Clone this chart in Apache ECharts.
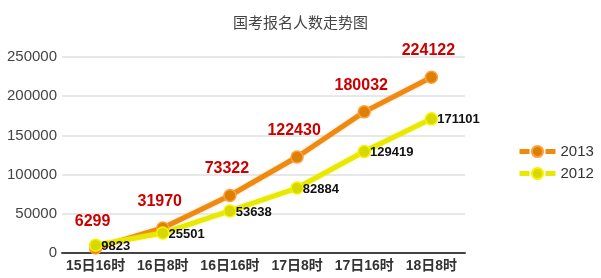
<!DOCTYPE html>
<html><head><meta charset="utf-8">
<script src="https://cdn.jsdelivr.net/npm/echarts@6/dist/echarts.min.js"></script>
<style>html,body{margin:0;padding:0;background:#fff}#c{width:601px;height:278px}</style>
</head><body><div id="c"></div>
<script>
const title = '国考报名人数走势图';
const categories = ['15日16时','16日8时','16日16时','17日8时','17日16时','18日8时'];
const seriesNames = ['2013','2012'];
const values2013 = [6299,31970,73322,122430,180032,224122];
const values2012 = [9823,25501,53638,82884,129419,171101];
const yTicks = {min:0, max:250000, interval:50000};

const chart = echarts.init(document.getElementById('c'), null, {renderer:'canvas'});
chart.setOption({
  animation:false,
  backgroundColor:'#fff',
  title:{text:title,left:'center',top:10,textStyle:{fontSize:15,fontWeight:'normal',color:'#444',fontFamily:'"Noto Sans CJK SC",sans-serif'}},
  grid:{left:62,right:136,top:57,bottom:25,containLabel:false},
  legend:{orient:'vertical',left:512,top:139,itemGap:7,itemWidth:36,itemHeight:14,
    lineStyle:{type:[10,16],width:5},
    textStyle:{fontSize:15,color:'#333',fontFamily:'Liberation Sans, Arial, sans-serif'},
    data:seriesNames},
  xAxis:{type:'category',data:categories,boundaryGap:true,
    axisLine:{lineStyle:{color:'#444',width:2}},axisTick:{show:false},
    axisLabel:{fontSize:14,fontWeight:'bold',color:'#333',margin:6,interval:0,fontFamily:'Liberation Sans, Arial, "Noto Sans CJK SC", sans-serif'}},
  yAxis:{type:'value',min:yTicks.min,max:yTicks.max,interval:yTicks.interval,
    axisLine:{show:false},axisTick:{show:false},
    splitLine:{lineStyle:{color:'#e0e0e0',width:1.5}},
    axisLabel:{fontSize:15,color:'#444',margin:5,formatter:v=>String(v),fontFamily:'Liberation Sans, Arial, sans-serif'}},
  series:[
    {name:'2013',type:'line',data:values2013,symbol:'circle',symbolSize:12,
      lineStyle:{color:'#ee8a10',width:5,shadowColor:'rgba(255,140,40,0.6)',shadowBlur:2},
      itemStyle:{color:'#dd8000',borderColor:'#ffa040',borderWidth:1.5},
      label:{show:true,position:'top',distance:12,offset:[-3,0],fontSize:16,fontWeight:'bold',color:'#cc0000',
        fontFamily:'Liberation Sans, Arial, sans-serif'},z:2},
    {name:'2012',type:'line',data:values2012,symbol:'circle',symbolSize:12,
      lineStyle:{color:'#e8e800',width:5,shadowColor:'rgba(240,240,0,0.6)',shadowBlur:2},
      itemStyle:{color:'#d8d800',borderColor:'#f4f400',borderWidth:1.5},
      label:{show:true,position:'right',distance:-1,offset:[0,1],fontSize:13,fontWeight:'bold',color:'#111',
        fontFamily:'Liberation Sans, Arial, sans-serif'},z:3}
  ]
});
</script></body></html>
